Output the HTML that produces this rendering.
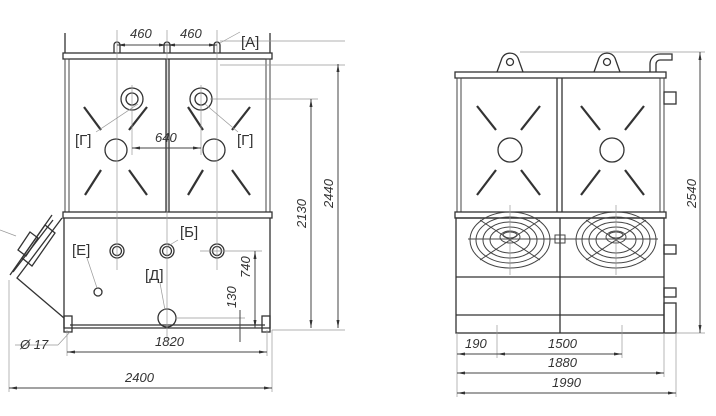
<!DOCTYPE html>
<html><head><meta charset="utf-8"><style>
body{margin:0;background:#fff}
svg{display:block}
text{font-family:"Liberation Sans",sans-serif;font-style:italic;font-size:13px;fill:#333}
.t{stroke:#333;stroke-width:1.3;fill:none}
.m{stroke:#444;stroke-width:1;fill:none}
.d{stroke:#999;stroke-width:0.7;fill:none}
.k{stroke:#333;stroke-width:2.2}
</style></head><body>
<svg width="716" height="416" viewBox="0 0 716 416" xmlns="http://www.w3.org/2000/svg">
<defs><marker id="a" markerWidth="8" markerHeight="6" refX="8" refY="3" orient="auto-start-reverse"><path d="M0,1.5L8,3L0,4.5z" fill="#333"/></marker></defs>

<!-- LEFT VIEW -->
<g>
<line class="t" x1="65" y1="33" x2="65" y2="53"/><line class="t" x1="270" y1="33" x2="270" y2="53"/>
<rect class="t" x="63" y="53" width="209" height="6"/>
<rect class="m" x="65" y="59" width="4" height="153"/><rect class="m" x="266" y="59" width="4" height="153"/>
<line class="t" x1="166" y1="59" x2="166" y2="212"/><line class="t" x1="169" y1="59" x2="169" y2="212"/>
<rect class="t" x="63" y="212" width="209" height="6"/>
<path class="t" d="M64,218V328H270V218"/>
<line class="t" x1="70" y1="325" x2="265" y2="325"/>
<rect class="t" x="64" y="316" width="8" height="16"/><rect class="t" x="262" y="316" width="8" height="16"/>
<g class="t">
<path d="M114,53v-8a3,3 0 0 1 6,0v8"/><path d="M164,53v-8a3,3 0 0 1 6,0v8"/><path d="M214,53v-8a3,3 0 0 1 6,0v8"/>
<circle cx="132" cy="99" r="11"/><circle cx="132" cy="99" r="6"/>
<circle cx="201" cy="99" r="11"/><circle cx="201" cy="99" r="6"/>
<circle cx="116" cy="150" r="11"/><circle cx="214" cy="150" r="11"/>
<circle cx="117" cy="251" r="7"/><circle cx="117" cy="251" r="4.5"/>
<circle cx="167" cy="251" r="7"/><circle cx="167" cy="251" r="4.5"/>
<circle cx="217" cy="251" r="7"/><circle cx="217" cy="251" r="4.5"/>
<circle cx="98" cy="292" r="4"/><circle cx="167" cy="318" r="9"/>
</g>
<g class="k">
<line x1="84" y1="107" x2="101" y2="130"/><line x1="147" y1="107" x2="129" y2="130"/>
<line x1="101" y1="170" x2="85" y2="195"/><line x1="129" y1="170" x2="147" y2="195"/>
<line x1="188" y1="107" x2="203" y2="130"/><line x1="250" y1="107" x2="232" y2="130"/>
<line x1="203" y1="170" x2="188" y2="195"/><line x1="232" y1="170" x2="250" y2="195"/>
</g>
<!-- angled fan -->
<g class="t">
<path d="M62,218L17,278L64,318"/>
<path d="M52,215L10,275"/><path d="M45,225L22,258l10,8l23,-33z"/>
<path d="M30,232l-12,18l8,6l12,-18z"/>
<line x1="53" y1="220" x2="13" y2="272"/>
</g>
<line class="d" x1="0" y1="230" x2="16" y2="236"/>
<!-- center lines -->
<g class="d">
<line x1="117" y1="30" x2="117" y2="270"/><line x1="167" y1="30" x2="167" y2="340"/><line x1="217" y1="30" x2="217" y2="270"/>
<line x1="132" y1="85" x2="132" y2="155"/><line x1="201" y1="85" x2="201" y2="155"/>
<line x1="210" y1="99" x2="318" y2="99"/><line x1="220" y1="65" x2="345" y2="65"/>
<line x1="220" y1="41" x2="345" y2="41"/>
<line x1="200" y1="251" x2="262" y2="251"/><line x1="175" y1="318" x2="245" y2="318"/>
<line x1="272" y1="330" x2="345" y2="330"/>
<line x1="67" y1="330" x2="67" y2="356"/><line x1="267" y1="330" x2="267" y2="356"/>
<line x1="9" y1="280" x2="9" y2="392"/><line x1="272" y1="330" x2="272" y2="392"/>
<line x1="220" y1="43" x2="240" y2="32"/><line x1="138" y1="104" x2="96" y2="132"/><line x1="205" y1="104" x2="238" y2="132"/>
<line x1="87" y1="258" x2="97" y2="288"/><line x1="160" y1="283" x2="165" y2="310"/><line x1="178" y1="240" x2="168" y2="246"/>
<line x1="70" y1="332" x2="58" y2="345"/><line x1="58" y1="345" x2="15" y2="345"/>
</g>
<g class="m" marker-start="url(#a)" marker-end="url(#a)" stroke-width="0.8">
<line x1="117" y1="45" x2="167" y2="45"/><line x1="167" y1="45" x2="217" y2="45"/>
<line x1="132" y1="148" x2="201" y2="148"/>
<line x1="311" y1="99" x2="311" y2="328"/><line x1="338" y1="64" x2="338" y2="328"/>
<line x1="255" y1="251" x2="255" y2="328"/>
<line x1="67" y1="352" x2="267" y2="352"/><line x1="9" y1="388" x2="272" y2="388"/>
</g>
<line class="m" x1="240" y1="310" x2="240" y2="342"/>
<text x="130" y="38">460</text><text x="180" y="38">460</text>
<text x="241" y="47" style="font-style:normal;font-size:15px">[А]</text>
<text x="155" y="142">640</text>
<text x="75" y="145" style="font-style:normal;font-size:15px">[Г]</text>
<text x="237" y="145" style="font-style:normal;font-size:15px">[Г]</text>
<text x="180" y="237" style="font-style:normal;font-size:15px">[Б]</text>
<text x="72" y="255" style="font-style:normal;font-size:15px">[Е]</text>
<text x="145" y="280" style="font-style:normal;font-size:15px">[Д]</text>
<text transform="translate(306,228) rotate(-90)">2130</text>
<text transform="translate(333,208) rotate(-90)">2440</text>
<text transform="translate(250,278) rotate(-90)">740</text>
<text transform="translate(236,308) rotate(-90)">130</text>
<text x="155" y="346">1820</text><text x="125" y="382">2400</text>
<text x="20" y="349">Ø 17</text>
</g>

<!-- RIGHT VIEW -->
<g>
<path class="t" d="M497,72l5,-14a9,9 0 0 1 16,0l5,14"/><circle class="t" cx="510" cy="62" r="3.5"/>
<path class="t" d="M594,72l5,-14a9,9 0 0 1 16,0l5,14"/><circle class="t" cx="607" cy="62" r="3.5"/>
<path class="t" d="M650,72v-8a10,10 0 0 1 10,-10h12v6h-12a4,4 0 0 0 -4,4v8"/>
<rect class="t" x="455" y="72" width="211" height="6"/>
<rect class="m" x="457" y="78" width="4" height="134"/><rect class="m" x="660" y="78" width="4" height="134"/>
<line class="t" x1="557" y1="78" x2="557" y2="212"/><line class="t" x1="562" y1="78" x2="562" y2="212"/>
<rect class="t" x="455" y="212" width="211" height="6"/>
<rect class="t" x="456" y="218" width="208" height="115"/>
<line class="t" x1="456" y1="277" x2="664" y2="277"/><line class="t" x1="456" y1="315" x2="664" y2="315"/>
<line class="t" x1="560" y1="218" x2="560" y2="333"/>
<g class="t">
<rect x="664" y="92" width="12" height="12"/><rect x="664" y="245" width="12" height="9"/><rect x="664" y="288" width="12" height="9"/><rect x="664" y="303" width="12" height="30"/>
<circle cx="510" cy="150" r="12"/><circle cx="612" cy="150" r="12"/>
</g>
<g class="k">
<line x1="477" y1="106" x2="496" y2="130"/><line x1="540" y1="106" x2="521" y2="130"/>
<line x1="496" y1="170" x2="477" y2="195"/><line x1="521" y1="170" x2="540" y2="195"/>
<line x1="581" y1="106" x2="600" y2="130"/><line x1="644" y1="106" x2="625" y2="130"/>
<line x1="600" y1="170" x2="581" y2="195"/><line x1="625" y1="170" x2="644" y2="195"/>
</g>
<g class="m" stroke-width="0.9">
<ellipse cx="510" cy="240" rx="40" ry="28"/><ellipse cx="510" cy="240" rx="34" ry="23"/><ellipse cx="510" cy="240" rx="27" ry="18"/><ellipse cx="510" cy="240" rx="20" ry="13"/>
<ellipse cx="510" cy="237" rx="10" ry="6"/><ellipse cx="510" cy="235" rx="7" ry="3"/>
<line x1="480" y1="220" x2="540" y2="260"/><line x1="540" y1="220" x2="480" y2="260"/>
<ellipse cx="616" cy="240" rx="40" ry="28"/><ellipse cx="616" cy="240" rx="34" ry="23"/><ellipse cx="616" cy="240" rx="27" ry="18"/><ellipse cx="616" cy="240" rx="20" ry="13"/>
<ellipse cx="616" cy="237" rx="10" ry="6"/><ellipse cx="616" cy="235" rx="7" ry="3"/>
<line x1="586" y1="220" x2="646" y2="260"/><line x1="646" y1="220" x2="586" y2="260"/>
<line x1="468" y1="239" x2="658" y2="239"/>
<rect x="555" y="235" width="10" height="8"/>
</g>
<g class="d">
<line x1="510" y1="205" x2="510" y2="275"/><line x1="616" y1="205" x2="616" y2="275"/>
<line x1="520" y1="52" x2="705" y2="52"/><line x1="676" y1="333" x2="705" y2="333"/>
<line x1="497" y1="325" x2="497" y2="358"/><line x1="622" y1="325" x2="622" y2="358"/>
<line x1="457" y1="333" x2="457" y2="397"/><line x1="664" y1="333" x2="664" y2="377"/><line x1="676" y1="333" x2="676" y2="397"/>
</g>
<g class="m" marker-start="url(#a)" marker-end="url(#a)" stroke-width="0.8">
<line x1="700" y1="52" x2="700" y2="333"/>
<line x1="497" y1="354" x2="622" y2="354"/>
<line x1="457" y1="373" x2="664" y2="373"/><line x1="457" y1="393" x2="676" y2="393"/>
</g>
<line class="m" x1="457" y1="354" x2="497" y2="354" marker-start="url(#a)" stroke-width="0.8"/>
<text x="465" y="348">190</text><text x="548" y="348">1500</text>
<text x="548" y="367">1880</text><text x="552" y="387">1990</text>
<text transform="translate(696,208) rotate(-90)">2540</text>
</g>
</svg>
</body></html>
